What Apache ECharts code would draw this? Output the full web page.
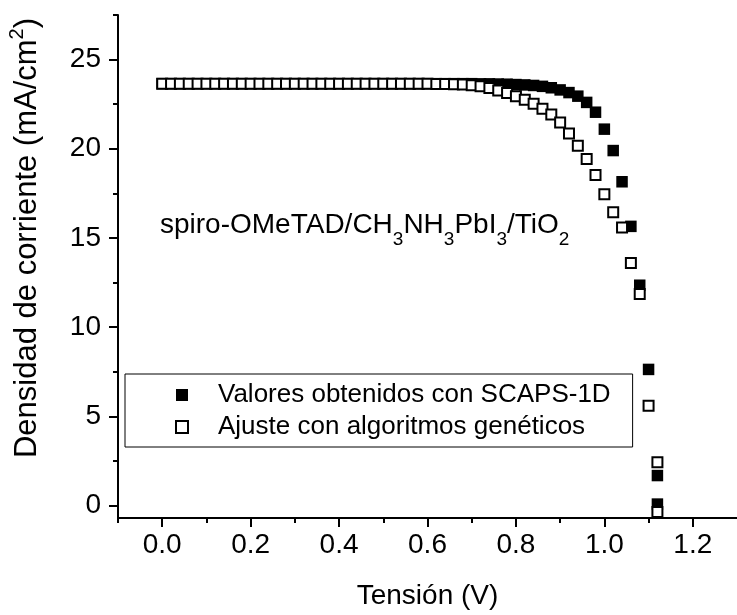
<!DOCTYPE html>
<html>
<head>
<meta charset="utf-8">
<script src="https://cdn.jsdelivr.net/npm/echarts@6/dist/echarts.min.js"></script>
<style>html,body{margin:0;padding:0;background:#fff}#c{width:737px;height:615px}</style>
</head>
<body>
<div id="c"></div>
<script>
// Voltages (V) and current densities (mA/cm2)
const vSim = [0.00,0.02,0.04,0.06,0.08,0.10,0.12,0.14,0.16,0.18,0.20,0.22,0.24,0.26,0.28,0.30,0.32,0.34,0.36,0.38,0.40,0.42,0.44,0.46,0.48,0.50,0.52,0.54,0.56,0.58,0.60,0.62,0.64,0.66,0.68,0.70,0.72,0.74,0.76,0.78,0.80,0.82,0.84,0.86,0.88,0.90,0.92,0.94,0.96,0.98,1.00,1.02,1.04,1.06,1.08,1.10,1.12,1.12];
const jSim = [23.65,23.65,23.65,23.65,23.65,23.65,23.65,23.65,23.65,23.65,23.65,23.65,23.65,23.65,23.65,23.65,23.65,23.65,23.65,23.65,23.65,23.65,23.65,23.65,23.65,23.65,23.65,23.65,23.65,23.65,23.65,23.65,23.65,23.65,23.65,23.65,23.64,23.64,23.63,23.62,23.6,23.58,23.55,23.5,23.42,23.3,23.15,22.95,22.6,22.05,21.1,19.9,18.15,15.65,12.35,7.63,1.68,0.08];
const vFit = [0.00,0.02,0.04,0.06,0.08,0.10,0.12,0.14,0.16,0.18,0.20,0.22,0.24,0.26,0.28,0.30,0.32,0.34,0.36,0.38,0.40,0.42,0.44,0.46,0.48,0.50,0.52,0.54,0.56,0.58,0.60,0.62,0.64,0.66,0.68,0.70,0.72,0.74,0.76,0.78,0.80,0.82,0.84,0.86,0.88,0.90,0.92,0.94,0.96,0.98,1.00,1.02,1.04,1.06,1.08,1.10,1.12,1.12];
const jFit = [23.65,23.65,23.65,23.65,23.65,23.65,23.65,23.65,23.65,23.65,23.65,23.65,23.65,23.65,23.65,23.65,23.65,23.65,23.65,23.65,23.65,23.65,23.65,23.65,23.65,23.64,23.64,23.64,23.64,23.64,23.64,23.63,23.63,23.62,23.6,23.56,23.5,23.41,23.27,23.13,22.94,22.75,22.53,22.25,21.92,21.47,20.86,20.17,19.42,18.53,17.45,16.44,15.59,13.6,11.86,5.59,2.42,-0.37];
const xMajor = [0,0.2,0.4,0.6,0.8,1.0,1.2];
const xMinor = [-0.1,0.1,0.3,0.5,0.7,0.9,1.1];
const yMajor = [0,5,10,15,20,25];
const yMinor = [2.5,7.5,12.5,17.5,22.5,27.5];
const seriesNames = ['Valores obtenidos con SCAPS-1D','Ajuste con algoritmos genéticos'];

const FONT = 'Liberation Sans, Arial, sans-serif';
const chart = echarts.init(document.getElementById('c'));
const lineStyle = {color:'#000', width:2};
const xBase = {type:'value', min:-0.1, max:1.3, position:'bottom', gridIndex:0, splitLine:{show:false}};
const yBase = {type:'value', min:-0.7, max:27.5, position:'left', gridIndex:0, splitLine:{show:false}};
chart.setOption({
  animation:false,
  backgroundColor:'#fff',
  grid:{left:118, right:-6, top:15, bottom:94},
  xAxis:[
    Object.assign({}, xBase, {
      axisLine:{show:true, onZero:false, lineStyle},
      axisTick:{show:true, customValues:xMajor, length:9, lineStyle},
      axisLabel:{customValues:xMajor, formatter:v=>v.toFixed(1), fontSize:28, fontFamily:FONT, color:'#000', margin:13},
      name:'Tensión (V)', nameLocation:'middle', nameGap:64,
      nameTextStyle:{fontSize:28, fontFamily:FONT, color:'#000'}
    }),
    Object.assign({}, xBase, {
      axisLine:{show:false, onZero:false},
      axisTick:{show:true, customValues:xMinor, length:5, lineStyle},
      axisLabel:{show:false}
    })
  ],
  yAxis:[
    Object.assign({}, yBase, {
      axisLine:{show:true, onZero:false, lineStyle},
      axisTick:{show:true, customValues:yMajor, length:9, lineStyle},
      axisLabel:{customValues:yMajor, fontSize:28, fontFamily:FONT, color:'#000', margin:17}
    }),
    Object.assign({}, yBase, {
      axisLine:{show:false, onZero:false},
      axisTick:{show:true, customValues:yMinor, length:5, lineStyle},
      axisLabel:{show:false}
    })
  ],
  legend:{
    orient:'vertical', left:125, top:374,
    padding:[6,22,5,50],
    borderColor:'#000', borderWidth:1,
    itemWidth:12, itemHeight:12, itemGap:2,
    data:seriesNames,
    textStyle:{fontSize:26, fontFamily:FONT, color:'#000', lineHeight:30, padding:[0,0,0,25]}
  },
  graphic:[
    {
      type:'text', x:160, y:225, z:10,
      style:{
        text:'spiro-OMeTAD/CH{s|3}NH{s|3}PbI{s|3}/TiO{s|2}',
        fontSize:28, fontFamily:FONT, fill:'#000',
        lineHeight:48, verticalAlign:'middle', align:'left',
        rich:{ s:{fontSize:19, fontFamily:FONT, lineHeight:19, verticalAlign:'bottom', fill:'#000'} }
      }
    },
    {
      type:'text', x:27, y:238, rotation:Math.PI/2, z:10,
      style:{
        text:'Densidad de corriente (mA/cm{p|2})',
        fontSize:31, fontFamily:FONT, fill:'#000',
        lineHeight:40, verticalAlign:'middle', align:'center',
        rich:{ p:{fontSize:20, fontFamily:FONT, lineHeight:20, verticalAlign:'top', fill:'#000'} }
      }
    }
  ],
  series:[
    {
      name:seriesNames[0], type:'scatter', xAxisIndex:0, yAxisIndex:0,
      symbol:'rect', symbolSize:11.5,
      itemStyle:{color:'#000', opacity:1},
      data:vSim.map((v,i)=>[v, jSim[i]])
    },
    {
      name:seriesNames[1], type:'scatter', xAxisIndex:0, yAxisIndex:0,
      symbol:'rect', symbolSize:10,
      itemStyle:{color:'#fff', borderColor:'#000', borderWidth:2, opacity:1},
      data:vFit.map((v,i)=>[v, jFit[i]])
    }
  ]
});
</script>
</body>
</html>
